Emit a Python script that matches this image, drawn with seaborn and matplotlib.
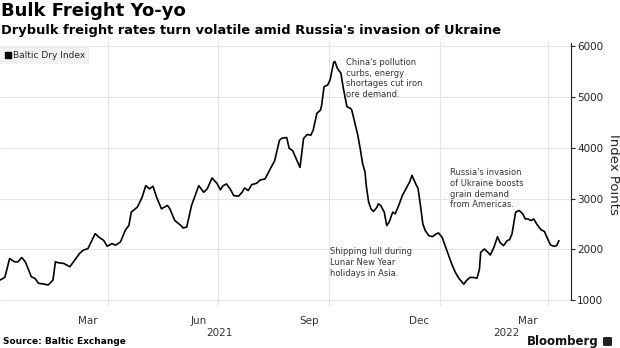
import pandas as pd
import numpy as np
import matplotlib
matplotlib.use("Agg")
import matplotlib.pyplot as plt
import matplotlib.dates as mdates
import matplotlib.transforms as mtransforms
from matplotlib.lines import Line2D
from matplotlib.patches import FancyBboxPatch
import seaborn as sns

# ---- data ----
start_date = "2021-01-01"
day_offsets = [0, 4, 8, 12, 15, 18, 21, 26, 29, 32, 36, 40, 44, 46, 48, 53, 58, 61, 66, 69,
               73, 79, 82, 86, 89, 93, 96, 100, 104, 107, 109, 114, 118, 121, 124, 127, 130, 134,
               139, 141, 145, 150, 152, 155, 159, 165, 169, 172, 176, 180, 183, 185, 188, 191,
               194, 198, 201, 203, 206, 209, 213, 216, 220, 225, 228, 232, 234, 238, 240, 243,
               246, 249, 252, 255, 258, 260, 263, 266, 267, 269, 272, 274, 277, 278, 280, 283,
               285, 288, 291, 292, 294, 297, 299, 301, 303, 304, 306, 308, 310, 313, 314, 316,
               319, 321, 323, 326, 328, 331, 334, 337, 340, 342, 345, 347, 349, 351, 353, 356,
               359, 362, 364, 367, 370, 373, 375, 378, 381, 385, 387, 390, 393, 396, 398, 399,
               402, 405, 407, 410, 413, 415, 418, 421, 423, 425, 428, 431, 434, 436, 438, 441,
               443, 446, 449, 452, 454, 457, 460, 462, 464]
bdi_values = [1392, 1444, 1817, 1752, 1752, 1837, 1752, 1458, 1425, 1327, 1315, 1294, 1392, 1752,
              1735, 1719, 1654, 1752, 1915, 1980, 2013, 2307, 2240, 2176, 2059, 2111, 2080, 2144,
              2373, 2471, 2732, 2830, 3026, 3255, 3190, 3242, 3026, 2797, 2863, 2797, 2569, 2471,
              2418, 2438, 2863, 3255, 3124, 3190, 3405, 3301, 3170, 3250, 3288, 3190, 3059, 3046,
              3124, 3209, 3157, 3275, 3300, 3366, 3386, 3614, 3745, 4150, 4190, 4203, 3993, 3941,
              3778, 3614, 4184, 4263, 4250, 4349, 4679, 4745, 4844, 5207, 5240, 5340, 5690, 5703,
              5570, 5471, 5174, 4811, 4778, 4745, 4547, 4250, 3985, 3688, 3523, 3259, 2929, 2797,
              2744, 2830, 2896, 2863, 2731, 2466, 2532, 2731, 2698, 2863, 3061, 3193, 3325, 3457,
              3292, 3200, 2863, 2499, 2367, 2268, 2248, 2301, 2321, 2235, 2037, 1839, 1707, 1542,
              1423, 1310, 1376, 1443, 1443, 1429, 1608, 1938, 2004, 1938, 1885, 2037, 2248, 2136,
              2070, 2169, 2189, 2301, 2731, 2764, 2697, 2598, 2598, 2565, 2598, 2480, 2387, 2347,
              2235, 2083, 2057, 2070, 2169]
series_name = "Baltic Dry Index"
y_ticks = [1000, 2000, 3000, 4000, 5000, 6000]
month_labels = ["Mar", "Jun", "Sep", "Dec", "Mar"]
month_label_dates = ["2021-03-15", "2021-06-15", "2021-09-15", "2021-12-15", "2022-03-15"]
quarter_grid_dates = ["2021-04-01", "2021-07-01", "2021-10-01", "2022-01-01", "2022-04-01"]
year_labels = ["2021", "2022"]
year_label_dates = ["2021-07-02", "2022-02-25"]

dates = pd.Timestamp(start_date) + pd.to_timedelta(day_offsets, unit="D")
df = pd.DataFrame({"date": dates, "value": bdi_values})

# ---- style ----
sns.set_style("white")
plt.rcParams["font.family"] = ["DejaVu Sans"]

fig = plt.figure(figsize=(6.2, 3.48), dpi=100)
ax = fig.add_axes([0.0, 0.1207, 0.921, 0.7575])

sns.lineplot(data=df, x="date", y="value", ax=ax, color="black", linewidth=1.2, legend=False)

ax.set_xlim(pd.Timestamp("2021-01-01"), pd.Timestamp("2022-04-20"))
ax.set_ylim(880, 6080)

# y axis on right
ax.yaxis.tick_right()
ax.yaxis.set_label_position("right")
ax.set_yticks(y_ticks)
ax.set_yticklabels([str(v) for v in y_ticks], fontsize=7.5, color="#222222")
ax.tick_params(axis="y", direction="out", length=3, width=0.8, color="#222222", pad=1.5)
ax.set_ylabel("Index Points", fontsize=9.5, rotation=-90, labelpad=12, color="#222222")

# x axis: month labels, no ticks
ax.set_xticks(pd.to_datetime(month_label_dates))
ax.set_xticklabels(month_labels, fontsize=7.5, color="#333333")
ax.tick_params(axis="x", length=0, pad=7)
ax.set_xticks(pd.to_datetime(quarter_grid_dates), minor=True)
ax.tick_params(axis="x", which="minor", length=0)
ax.set_xlabel("")

# grid
ax.grid(False)
ax.grid(axis="y", which="major", color="#e4e4e4", linewidth=0.8)
ax.grid(axis="x", which="minor", color="#e4e4e4", linewidth=0.8)
ax.set_axisbelow(True)

for s in ["top", "left", "bottom"]:
    ax.spines[s].set_visible(False)
ax.spines["right"].set_color("#222222")
ax.spines["right"].set_linewidth(0.8)
ax.spines["right"].set_bounds(1000, 6070)

# year labels
trans = mtransforms.blended_transform_factory(ax.transData, ax.transAxes)
for lab, d in zip(year_labels, year_label_dates):
    ax.text(mdates.date2num(pd.Timestamp(d)), -0.085, lab, transform=trans,
            ha="center", va="top", fontsize=7.5, color="#333333")

# legend
handle = Line2D([], [], marker="s", color="black", linestyle="None", markersize=4)
leg = ax.legend([handle], [series_name], loc="upper left", bbox_to_anchor=(0.0, 0.985),
                fontsize=6.5, frameon=True, fancybox=False, facecolor="#eeeeee",
                edgecolor="#eeeeee", handletextpad=0.1, borderpad=0.5, handlelength=0.8,
                borderaxespad=0.0)
leg.get_frame().set_linewidth(0)

# annotations (figure pixel positions)
def ftext(x, y, s, **kw):
    fig.text(x / 620, 1 - y / 348, s, **kw)

ann_kw = dict(fontsize=6, color="#333333", va="top", ha="left", linespacing=1.25)
ftext(346, 58, "China's pollution\ncurbs, energy\nshortages cut iron\nore demand.", **ann_kw)
ftext(330, 247, "Shipping lull during\nLunar New Year\nholidays in Asia.", **ann_kw)
ftext(450, 168, "Russia's invasion\nof Ukraine boosts\ngrain demand\nfrom Americas.", **ann_kw)

# titles
ftext(1, 2, "Bulk Freight Yo-yo", fontsize=13, fontweight="bold", va="top", ha="left", color="black")
ftext(1, 24, "Drybulk freight rates turn volatile amid Russia's invasion of Ukraine",
      fontsize=9.4, fontweight="bold", va="top", ha="left", color="black")
ftext(3, 341, "Source: Baltic Exchange", fontsize=6.5, fontweight="bold", va="center", ha="left",
      color="black")
ftext(599, 341, "Bloomberg", fontsize=8.5, fontweight="bold", va="center", ha="right", color="#111111")
icon = FancyBboxPatch((603 / 620, 1 - 346 / 348), 9 / 620, 9 / 348,
                      boxstyle="round,pad=0,rounding_size=0.003", transform=fig.transFigure,
                      facecolor="#222222", edgecolor="none")
fig.patches.append(icon)

fig.savefig("out.png", dpi=100, facecolor="white")
